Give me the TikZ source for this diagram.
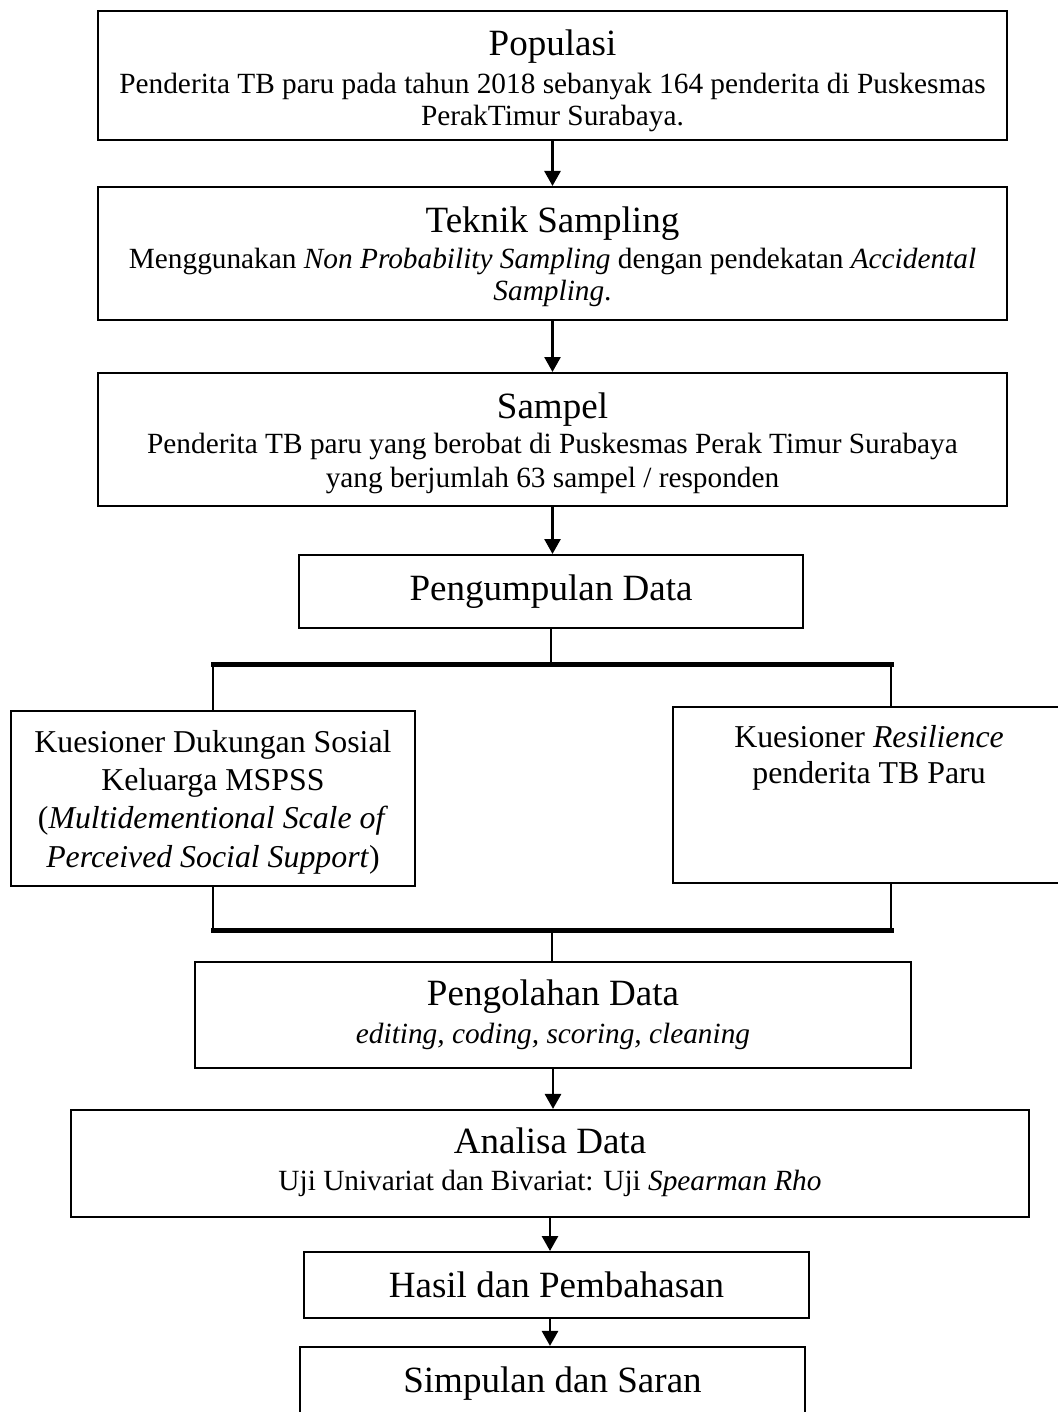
\documentclass[tikz,border=0pt]{standalone}
\usepackage{fontspec}
\setmainfont{Liberation Serif}
\usetikzlibrary{arrows.meta}
\newcommand{\titlefont}{\fontsize{16.3}{19}\selectfont}
\newcommand{\bodyfont}{\fontsize{12.9}{14.1}\selectfont}
\newcommand{\midfont}{\fontsize{14}{16.9}\selectfont}

\begin{document}
\begin{tikzpicture}[x=0.44pt,y=-0.44pt,
  box/.style={draw, line width=0.9pt, rectangle, align=center, inner sep=0pt},
  txt/.style={align=center, inner sep=0pt, font=\bodyfont},
  arr/.style={-{Triangle[width=7pt,length=6.6pt]}, line width=1.3pt},
  link/.style={line width=1.3pt},
  bar/.style={line width=2.2pt, line cap=rect}]
\useasboundingbox (0,0) rectangle (1058,1412);
\clip (0,0) rectangle (1058,1412);

\path (552.5,75.5) node (pop) [box, minimum width=400pt, minimum height=56.8pt] {};
\path (552.5,80.5) node (popText) [txt]
  {{\titlefont Populasi}\\[2.6pt]
   Penderita TB paru pada tahun 2018 sebanyak 164 penderita di Puskesmas\\
   PerakTimur Surabaya.};

\path (552.5,253.5) node (tek) [box, minimum width=400pt, minimum height=58.5pt] {};
\path (552.5,256.5) node (tekText) [txt]
  {{\titlefont Teknik Sampling}\\[1.7pt]
   Menggunakan \textit{Non Probability Sampling} dengan pendekatan \textit{Accidental}\\
   \textit{Sampling}.};

\path (552.5,439.5) node (sam) [box, minimum width=400pt, minimum height=58.5pt] {};
\path (552.5,443) node (samText) [txt]
  {{\titlefont Sampel}\\[1.3pt]
   Penderita TB paru yang berobat di Puskesmas Perak Timur Surabaya\\[0.9pt]
   yang berjumlah 63 sampel / responden};

\path (551,591.5) node (kump) [box, font=\titlefont, minimum width=221.8pt, minimum height=32.1pt]
  {Pengumpulan Data};

\path (213,798.5) node (kuesL) [box, minimum width=177.5pt, minimum height=77pt] {};
\path (213,802) node (kuesLText) [txt, font=\midfont]
  {Kuesioner Dukungan Sosial\\
   Keluarga MSPSS\\
   (\textit{Multidementional Scale of}\\
   \textit{Perceived Social Support})};

\path (891,795) node (kuesR) [box, minimum width=191.8pt, minimum height=77.4pt] {};
\path (869,757.5) node (kuesRText) [txt, font=\fontsize{14}{15.8}\selectfont]
  {Kuesioner \textit{Resilience}\\
   penderita TB Paru};

\path (553,1015) node (olah) [box, minimum width=315pt, minimum height=46.6pt] {};
\path (553,1014.7) node (olahText) [txt]
  {{\titlefont Pengolahan Data}\\[2.6pt]
   \textit{editing, coding, scoring, cleaning}};

\path (550,1163.5) node (ana) [box, minimum width=421.5pt, minimum height=47.1pt] {};
\path (550,1162) node (anaText) [txt]
  {{\titlefont Analisa Data}\\[2.2pt]
   Uji Univariat dan Bivariat: Uji \textit{Spearman Rho}};

\path (556.5,1285) node (has) [box, font=\titlefont, minimum width=222.2pt, minimum height=29pt]
  {Hasil dan Pembahasan};
\path (552.5,1384) node (simp) [box, font=\titlefont, minimum width=222.2pt, minimum height=32.6pt]
  {Simpulan dan Saran};

\draw [arr] (pop.south) -- (tek.north);
\draw [arr] (tek.south) -- (sam.north);
\draw [arr] (sam.south) -- (sam.south |- kump.north);

% split to the two questionnaires
\draw [link] (kump.south) -- ++(0,35) coordinate (split);
\draw [bar] (kuesL.north |- split) -- (kuesR.north |- split);
\draw [link] (kuesL.north |- split) -- (kuesL.north);
\draw [link] (kuesR.north |- split) -- (kuesR.north);

% join back
\coordinate (join) at (552,930);
\draw [link] (kuesL.south) -- (kuesL.south |- join);
\draw [link] (kuesR.south) -- (kuesR.south |- join);
\draw [bar] (kuesL.south |- join) -- (kuesR.south |- join);
\draw [link] (join) -- (join |- olah.north);

\draw [arr] (olah.south) -- (olah.south |- ana.north);
\draw [arr] (ana.south) -- (ana.south |- has.north);
\draw [arr] (ana.south |- has.south) -- (ana.south |- simp.north);

\end{tikzpicture}
\end{document}
